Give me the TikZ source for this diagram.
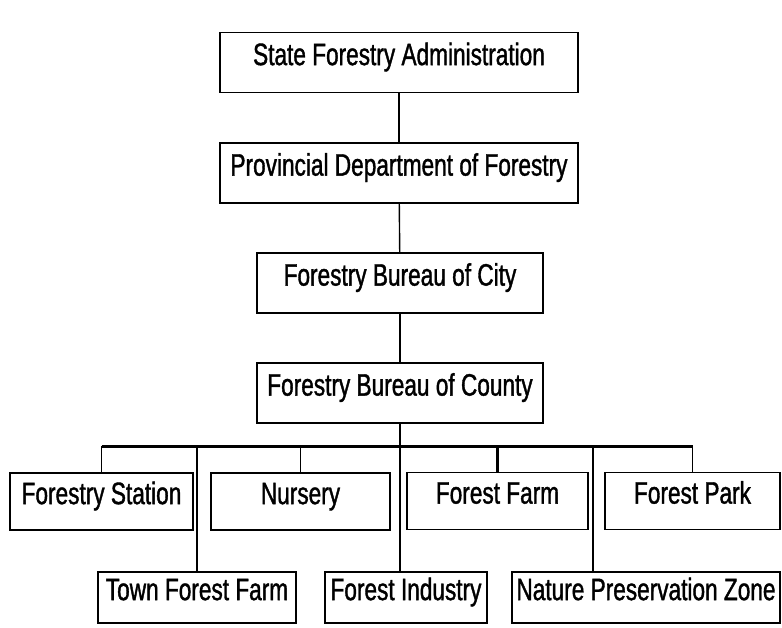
\documentclass[tikz,border=0pt]{standalone}
\usepackage{fontspec}
\setmainfont{Liberation Sans}[FakeStretch=0.73, FakeBold=1.2]
\usepackage{tikz}
\usetikzlibrary{calc, positioning}

\begin{document}
\begin{tikzpicture}[
		x=1pt, y=-1pt,
		unit/.style={rectangle, draw, line width=1.8pt, inner sep=0pt, minimum height=60pt,
			text height=0.72em, text depth=0.2em,
			font=\fontsize{31}{36}\selectfont},
		link/.style={draw, line width=1.4pt},
		trunk/.style={draw, line width=3pt},
		]
		\useasboundingbox (0,0) rectangle (782,628);

		% --- Hiérarchie (colonne centrale) ---
		\node[unit, minimum width=358pt] (state) at (399, 62.5) {State Forestry Administration};
		\node[unit, minimum width=358pt] (prov) at (399, 173) {Provincial Department of Forestry};
		\node[unit, minimum width=286pt] (city) at (400, 283) {Forestry Bureau of City};
		\node[unit, minimum width=286pt] (county) at (400, 393) {Forestry Bureau of County};

		% --- Premier rang ---
		\node[unit, minimum width=183pt, minimum height=57pt] (station) at (101.5, 501.5) {Forestry Station};
		\node[unit, minimum width=179pt, minimum height=57pt] (nursery) at (300.5, 501.5) {Nursery};
		\node[unit, minimum width=181pt, minimum height=57pt] (farm) at (497.5, 501) {Forest Farm};
		\node[unit, minimum width=175pt, minimum height=57pt] (park) at (692.5, 501) {Forest Park};

		% --- Deuxième rang ---
		\node[unit, minimum width=198pt, minimum height=51pt] (town) at (197, 597.5) {Town Forest Farm};
		\node[unit, minimum width=162pt, minimum height=51pt] (industry) at (406, 597.5) {Forest Industry};
		\node[unit, minimum width=268pt, minimum height=51pt] (nature) at (646, 597.5) {Nature Preservation Zone};

		\coordinate (bus) at (400, 446);
		\coordinate (natureTop) at ($(nature.north west)+(82,0)$);

		\draw[link] (state) -- (prov);
		\draw[link] (prov) -- (city);
		\draw[link] (city) -- (county);
		\draw[link] (county.south) -- (county.south |- industry.north);

		\draw[trunk] (station.north |- bus) -- (park.north |- bus);

		\draw[link] (station.north |- bus) -- (station.north);
		\draw[link] (nursery.north |- bus) -- (nursery.north);
		\draw[trunk] (farm.north |- bus) -- (farm.north);
		\draw[link] (park.north |- bus) -- (park.north);
		\draw[link] (town.north |- bus) -- (town.north);
		\draw[link] (natureTop |- bus) -- (natureTop);

	\end{tikzpicture}
\end{document}
